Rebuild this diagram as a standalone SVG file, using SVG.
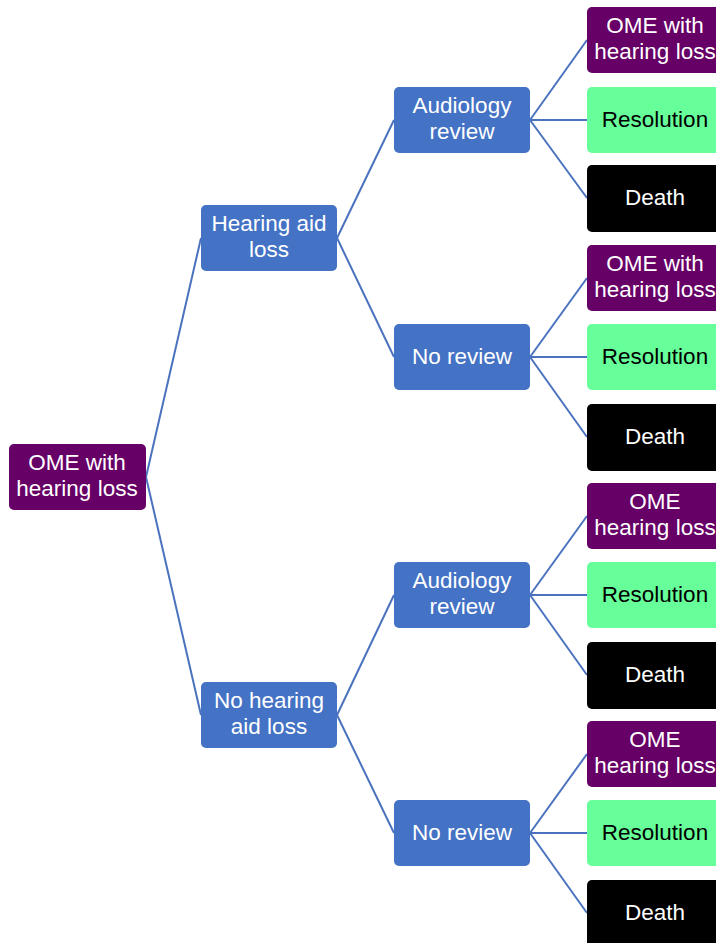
<svg xmlns="http://www.w3.org/2000/svg" width="716" height="943" viewBox="0 0 716 943">
  <style>
    .box { stroke: none; }
    .purple { fill: #660066; }
    .blue { fill: #4472C4; }
    .green { fill: #66FF99; }
    .black { fill: #000000; }
    text { font-family: "Liberation Sans", Arial, sans-serif; font-size: 22.5px; text-anchor: middle; }
    .light { fill: #FFFFFF; }
    .dark { fill: #000000; }
    .links line { stroke: #4A72BE; stroke-width: 2; }
  </style>
  <rect width="716" height="943" fill="#FFFFFF"/>

  <!-- connectors -->
  <g class="links">
    <line x1="146" y1="477" x2="201" y2="238"/>
    <line x1="146" y1="477" x2="201" y2="715"/>
    <line x1="337" y1="238" x2="394" y2="120"/>
    <line x1="337" y1="238" x2="394" y2="357"/>
    <line x1="337" y1="715" x2="394" y2="595"/>
    <line x1="337" y1="715" x2="394" y2="833"/>
    <line x1="530" y1="120" x2="587" y2="40"/>
    <line x1="530" y1="120" x2="587" y2="120"/>
    <line x1="530" y1="120" x2="587" y2="198"/>
    <line x1="530" y1="357" x2="587" y2="278"/>
    <line x1="530" y1="357" x2="587" y2="357"/>
    <line x1="530" y1="357" x2="587" y2="437"/>
    <line x1="530" y1="595" x2="587" y2="516"/>
    <line x1="530" y1="595" x2="587" y2="595"/>
    <line x1="530" y1="595" x2="587" y2="675"/>
    <line x1="530" y1="833" x2="587" y2="754"/>
    <line x1="530" y1="833" x2="587" y2="833"/>
    <line x1="530" y1="833" x2="587" y2="913"/>
  </g>

  <!-- root -->
  <g id="root">
    <rect class="box purple" x="9" y="444" width="137" height="66" rx="5"/>
    <text class="light" x="77" y="470">OME with</text>
    <text class="light" x="77" y="496">hearing loss</text>
  </g>

  <!-- first level -->
  <g id="hearing-aid-loss">
    <rect class="box blue" x="201" y="205" width="136" height="66" rx="5"/>
    <text class="light" x="269" y="231">Hearing aid</text>
    <text class="light" x="269" y="257">loss</text>
  </g>
  <g id="no-hearing-aid-loss">
    <rect class="box blue" x="201" y="682" width="136" height="66" rx="5"/>
    <text class="light" x="269" y="708">No hearing</text>
    <text class="light" x="269" y="734">aid loss</text>
  </g>

  <!-- second level -->
  <g id="audiology-review-1">
    <rect class="box blue" x="394" y="87" width="136" height="66" rx="5"/>
    <text class="light" x="462" y="113">Audiology</text>
    <text class="light" x="462" y="139">review</text>
  </g>
  <g id="no-review-1">
    <rect class="box blue" x="394" y="324" width="136" height="66" rx="5"/>
    <text class="light" x="462" y="364">No review</text>
  </g>
  <g id="audiology-review-2">
    <rect class="box blue" x="394" y="562" width="136" height="66" rx="5"/>
    <text class="light" x="462" y="588">Audiology</text>
    <text class="light" x="462" y="614">review</text>
  </g>
  <g id="no-review-2">
    <rect class="box blue" x="394" y="800" width="136" height="66" rx="5"/>
    <text class="light" x="462" y="840">No review</text>
  </g>

  <!-- outcomes -->
  <g id="outcome-1a">
    <rect class="box purple" x="587" y="7" width="136" height="66" rx="5"/>
    <text class="light" x="655" y="33">OME with</text>
    <text class="light" x="655" y="59">hearing loss</text>
  </g>
  <g id="outcome-1b">
    <rect class="box green" x="587" y="87" width="136" height="66" rx="5"/>
    <text class="dark" x="655" y="127">Resolution</text>
  </g>
  <g id="outcome-1c">
    <rect class="box black" x="587" y="165" width="136" height="67" rx="5"/>
    <text class="light" x="655" y="205">Death</text>
  </g>

  <g id="outcome-2a">
    <rect class="box purple" x="587" y="245" width="136" height="66" rx="5"/>
    <text class="light" x="655" y="271">OME with</text>
    <text class="light" x="655" y="297">hearing loss</text>
  </g>
  <g id="outcome-2b">
    <rect class="box green" x="587" y="324" width="136" height="66" rx="5"/>
    <text class="dark" x="655" y="364">Resolution</text>
  </g>
  <g id="outcome-2c">
    <rect class="box black" x="587" y="404" width="136" height="67" rx="5"/>
    <text class="light" x="655" y="444">Death</text>
  </g>

  <g id="outcome-3a">
    <rect class="box purple" x="587" y="483" width="136" height="66" rx="5"/>
    <text class="light" x="655" y="509">OME</text>
    <text class="light" x="655" y="535">hearing loss</text>
  </g>
  <g id="outcome-3b">
    <rect class="box green" x="587" y="562" width="136" height="66" rx="5"/>
    <text class="dark" x="655" y="602">Resolution</text>
  </g>
  <g id="outcome-3c">
    <rect class="box black" x="587" y="642" width="136" height="67" rx="5"/>
    <text class="light" x="655" y="682">Death</text>
  </g>

  <g id="outcome-4a">
    <rect class="box purple" x="587" y="721" width="136" height="66" rx="5"/>
    <text class="light" x="655" y="747">OME</text>
    <text class="light" x="655" y="773">hearing loss</text>
  </g>
  <g id="outcome-4b">
    <rect class="box green" x="587" y="800" width="136" height="66" rx="5"/>
    <text class="dark" x="655" y="840">Resolution</text>
  </g>
  <g id="outcome-4c">
    <rect class="box black" x="587" y="880" width="136" height="67" rx="5"/>
    <text class="light" x="655" y="920">Death</text>
  </g>
</svg>
